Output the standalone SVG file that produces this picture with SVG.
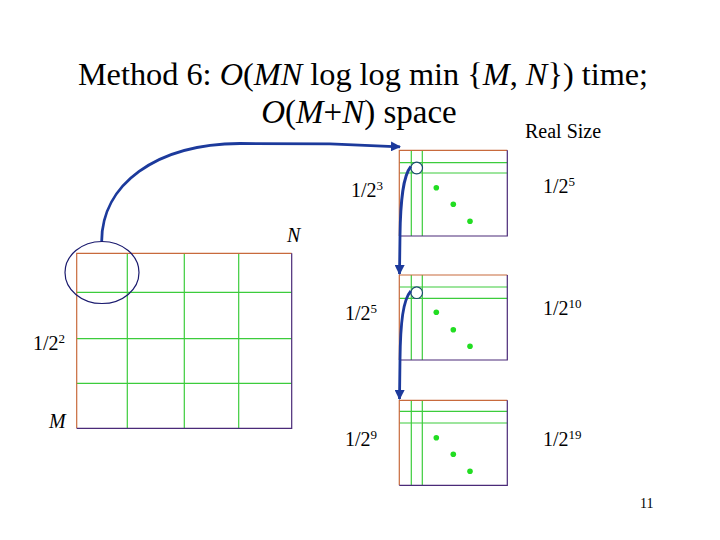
<svg xmlns="http://www.w3.org/2000/svg" width="720" height="540" viewBox="0 0 720 540">
<defs>
<style>
.t{font-family:"Liberation Serif","Times New Roman",serif;fill:#000}
.g{stroke:#3ccc3c;stroke-width:1.2;fill:none}
.or{stroke:#c86a3c;stroke-width:1.2;fill:none}
.pu{stroke:#4a2a78;stroke-width:1.2;fill:none}
.dot{fill:#22dd22}
.arr{stroke:#1c3a9c;stroke-width:2.8;fill:none}
</style>
<marker id="ah" viewBox="0 0 10 10" refX="9" refY="5" markerWidth="3.6" markerHeight="3.6" orient="auto" markerUnits="strokeWidth">
<path d="M0,0 L10,5 L0,10 z" fill="#1c3a9c"/>
</marker>
</defs>
<rect width="720" height="540" fill="#fff"/>

<g id="title">
<text class="t" x="363" y="85" font-size="32.3" text-anchor="middle">Method 6: <tspan font-style="italic">O</tspan>(<tspan font-style="italic">MN</tspan> log log min {<tspan font-style="italic">M</tspan>, <tspan font-style="italic">N</tspan>}) time;</text>
<text class="t" x="359" y="123" font-size="33" text-anchor="middle"><tspan font-style="italic">O</tspan>(<tspan font-style="italic">M</tspan>+<tspan font-style="italic">N</tspan>) space</text>
<text class="t" x="525" y="138" font-size="20">Real Size</text>
</g>

<g id="big-grid">
<line class="g" x1="127.3" y1="253.3" x2="127.3" y2="428.3"/>
<line class="g" x1="184.3" y1="253.3" x2="184.3" y2="428.3"/>
<line class="g" x1="238.7" y1="253.3" x2="238.7" y2="428.3"/>
<line class="g" x1="76.7" y1="292.3" x2="291.7" y2="292.3"/>
<line class="g" x1="76.7" y1="338.7" x2="291.7" y2="338.7"/>
<line class="g" x1="76.7" y1="383.3" x2="291.7" y2="383.3"/>
<polyline class="or" points="76.7,428.3 76.7,253.3 291.7,253.3"/>
<polyline class="pu" points="291.7,253.3 291.7,428.3 76.7,428.3"/>
<ellipse cx="102" cy="272.5" rx="37" ry="31" fill="none" stroke="#1a1a6e" stroke-width="1.2"/>
</g>

<g id="box1">
<line class="g" x1="411.3" y1="150.3" x2="411.3" y2="236"/>
<line class="g" x1="422.3" y1="150.3" x2="422.3" y2="236"/>
<line class="g" x1="399.3" y1="162.7" x2="507.3" y2="162.7"/>
<line class="g" x1="399.3" y1="173" x2="507.3" y2="173"/>
<polyline class="or" points="399.3,236 399.3,150.3 507.3,150.3"/>
<polyline class="pu" points="507.3,150.3 507.3,236 399.3,236"/>
<circle cx="416.7" cy="168" r="5.8" fill="#fff" stroke="#1a4a6e" stroke-width="1.2"/>
<circle class="dot" cx="436.3" cy="187.7" r="2.8"/>
<circle class="dot" cx="453.3" cy="204.3" r="2.8"/>
<circle class="dot" cx="470" cy="221.3" r="2.8"/>
</g>

<g id="box2">
<line class="g" x1="411.3" y1="275" x2="411.3" y2="360"/>
<line class="g" x1="422.3" y1="275" x2="422.3" y2="360"/>
<line class="g" x1="399.3" y1="287" x2="507.3" y2="287"/>
<line class="g" x1="399.3" y1="298.3" x2="507.3" y2="298.3"/>
<polyline class="or" points="399.3,360 399.3,275 507.3,275"/>
<polyline class="pu" points="507.3,275 507.3,360 399.3,360"/>
<circle cx="416.7" cy="292.7" r="5.8" fill="#fff" stroke="#1a4a6e" stroke-width="1.2"/>
<circle class="dot" cx="436.3" cy="312.3" r="2.8"/>
<circle class="dot" cx="453.3" cy="329.7" r="2.8"/>
<circle class="dot" cx="470" cy="346.3" r="2.8"/>
</g>

<g id="box3">
<line class="g" x1="411.3" y1="400.3" x2="411.3" y2="485.3"/>
<line class="g" x1="422.3" y1="400.3" x2="422.3" y2="485.3"/>
<line class="g" x1="399.3" y1="411.3" x2="507.3" y2="411.3"/>
<line class="g" x1="399.3" y1="423" x2="507.3" y2="423"/>
<polyline class="or" points="399.3,485.3 399.3,400.3 507.3,400.3"/>
<polyline class="pu" points="507.3,400.3 507.3,485.3 399.3,485.3"/>
<circle class="dot" cx="436.3" cy="437.7" r="2.8"/>
<circle class="dot" cx="453.3" cy="454.3" r="2.8"/>
<circle class="dot" cx="470" cy="471.3" r="2.8"/>
</g>

<g id="connectors">
<path class="arr" d="M101.7,241 C102,185 155,144 240,143.5 L330,143.8 L400,146.8" marker-end="url(#ah)"/>
<path class="arr" d="M410.8,166.5 C403,176 400.5,200 400,236 L399.5,274" marker-end="url(#ah)"/>
<path class="arr" d="M410.8,291 C403,300 400.5,322 400,360 L399.5,399" marker-end="url(#ah)"/>
</g>

<g id="labels">
<text class="t" x="351" y="197" font-size="20">1/2<tspan font-size="13" dy="-7">3</tspan></text>
<text class="t" x="543" y="193" font-size="20">1/2<tspan font-size="13" dy="-7">5</tspan></text>
<text class="t" x="287" y="242" font-size="20" font-style="italic">N</text>
<text class="t" x="345" y="320" font-size="20">1/2<tspan font-size="13" dy="-7">5</tspan></text>
<text class="t" x="543" y="315" font-size="20">1/2<tspan font-size="13" dy="-7">10</tspan></text>
<text class="t" x="33" y="350" font-size="20">1/2<tspan font-size="13" dy="-7">2</tspan></text>
<text class="t" x="49" y="428" font-size="20" font-style="italic">M</text>
<text class="t" x="345" y="446" font-size="20">1/2<tspan font-size="13" dy="-7">9</tspan></text>
<text class="t" x="543" y="446" font-size="20">1/2<tspan font-size="13" dy="-7">19</tspan></text>
<text class="t" x="640" y="508" font-size="14">11</text>
</g>
</svg>
